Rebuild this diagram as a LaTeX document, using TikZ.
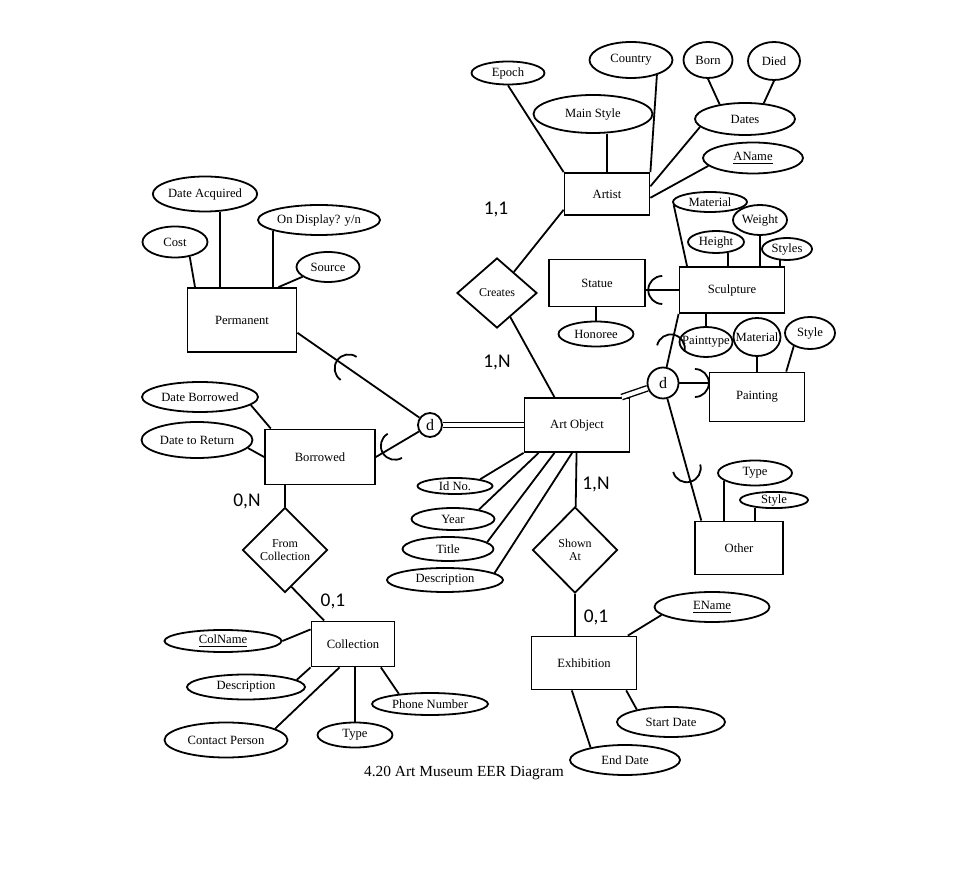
\documentclass[tikz,border=0pt]{standalone}
\usepackage{fontspec}
\setmainfont{Liberation Serif}
\newfontfamily\cardfam{Carlito}
\usepackage{tikz}
\usetikzlibrary{shapes.geometric, arrows.meta}
\tikzset{
  er/.style={draw, line width=0.9pt, inner sep=0pt,
    font=\fontsize{6.3}{7}\selectfont},
  ent/.style={er, rectangle, fill=white},
  attr/.style={er, ellipse, fill=white},
  rel/.style={er, diamond, fill=white, align=center,
    font=\fontsize{6}{6.8}\selectfont},
  spec/.style={er, circle, fill=white, font=\fontsize{8}{9}\selectfont},
  card/.style={font=\cardfam\fontsize{9.7}{11}\selectfont},
  link/.style={line width=0.9pt},
  isa/.style={line width=0.7pt, double, double distance=2pt},
  subset/.pic={\draw[line width=0.9pt] (0,7pt) arc[start angle=90, end angle=270, radius=7pt];}
}

\begin{document}
\begin{tikzpicture}[x=0.5pt, y=-0.5pt]
  \useasboundingbox (0,0) rectangle (980,892);

  % Artist
  \node[ent, minimum width=42.5pt, minimum height=21pt] (artist) at (607,194) {Artist};
  \node[attr, minimum width=36.5pt, minimum height=11.5pt] (epoch) at (508,73) {Epoch};
  \node[attr, minimum width=41.5pt, minimum height=18pt] (country) at (631,60) {Country};
  \node[attr, minimum width=24.5pt, minimum height=18pt] (born) at (708,60) {Born};
  \node[attr, minimum width=26pt, minimum height=19pt] (died) at (774,61) {Died};
  \node[attr, minimum width=59.5pt, minimum height=19pt] (mstyle) at (593,114) {Main Style};
  \node[attr, minimum width=50pt, minimum height=16pt] (dates) at (745,119) {Dates};
  \node[attr, minimum width=50pt, minimum height=15.5pt] (aname) at (753,158) {\underline{AName}};

  % relationships
  \node[rel, minimum width=40pt, minimum height=35pt] (creates) at (497,293) {Creates};
  \node[rel, minimum width=42.5pt, minimum height=43pt] (shown) at (575,550) {Shown\\At};
  \node[rel, minimum width=42.5pt, minimum height=42.5pt] (fromcol) at (285,550) {From\\Collection};

  % Art Object
  \node[ent, minimum width=52.5pt, minimum height=27pt] (artobj) at (577,425) {Art Object};
  \node[attr, minimum width=37.5pt, minimum height=8pt] (idno) at (455,486) {Id No.};
  \node[attr, minimum width=41.5pt, minimum height=11pt] (year) at (453,519) {Year};
  \node[attr, minimum width=45.5pt, minimum height=12pt] (title) at (448,549) {Title};
  \node[attr, minimum width=58pt, minimum height=12pt] (adesc) at (445,580) {Description};

  % Exhibition
  \node[ent, minimum width=52.5pt, minimum height=26.5pt] (exhib) at (584,663) {Exhibition};
  \node[attr, minimum width=57.5pt, minimum height=15pt] (ename) at (712,607) {\underline{EName}};
  \node[attr, minimum width=54pt, minimum height=15pt] (start) at (671,722) {Start Date};
  \node[attr, minimum width=55pt, minimum height=15pt] (enddate) at (625,760) {End Date};

  % Collection
  \node[ent, minimum width=41.5pt, minimum height=22.5pt] (coll) at (353,644) {Collection};
  \node[attr, minimum width=58.5pt, minimum height=11pt] (colname) at (223,641) {\underline{ColName}};
  \node[attr, minimum width=59pt, minimum height=12.5pt] (cdesc) at (246,687) {Description};
  \node[attr, minimum width=61.5pt, minimum height=17.5pt] (contact) at (226,740) {Contact Person};
  \node[attr, minimum width=37.5pt, minimum height=12.5pt] (ctype) at (355,735) {Type};
  \node[attr, minimum width=58pt, minimum height=11pt] (phone) at (430,704) {Phone Number};

  % Permanent and Borrowed
  \node[ent, minimum width=54.5pt, minimum height=32pt] (perm) at (242,320) {Permanent};
  \node[attr, minimum width=45pt, minimum height=17.5pt] (dacq) at (205,194) {Date Acquired};
  \node[attr, minimum width=32.5pt, minimum height=15.5pt] (cost) at (175,242) {Cost};
  \node[attr, minimum width=61pt, minimum height=15pt] (ondisp) at (319,220) {On Display? y/n};
  \node[attr, minimum width=31.5pt, minimum height=15pt] (source) at (328,267) {Source};
  \node[ent, minimum width=55pt, minimum height=27.5pt] (borrowed) at (320,457) {Borrowed};
  \node[attr, minimum width=58pt, minimum height=15pt] (dborrow) at (200,397) {Date Borrowed};
  \node[attr, minimum width=55.5pt, minimum height=18pt] (dreturn) at (197,440) {Date to Return};
  \node[spec, minimum size=12pt] (dl) at (430,425) {d};

  % Sculpture, Painting, Other
  \node[spec, minimum size=15.5pt] (dr) at (663,383) {d};
  \node[ent, minimum width=52.5pt, minimum height=23pt] (sculpt) at (732,290) {Sculpture};
  \node[attr, minimum width=37pt, minimum height=10pt] (smat) at (710,202) {Material};
  \node[attr, minimum width=27pt, minimum height=15pt] (weight) at (760,220) {Weight};
  \node[attr, minimum width=28pt, minimum height=11pt] (height) at (716,242) {Height};
  \node[attr, minimum width=25pt, minimum height=11pt] (styles) at (787,249) {Styles};
  \node[ent, minimum width=48pt, minimum height=23.5pt] (statue) at (597,283) {Statue};
  \node[attr, minimum width=37.5pt, minimum height=12.5pt] (honoree) at (596,334) {Honoree};
  \node[attr, inner xsep=-7pt, minimum width=26.5pt, minimum height=15pt] (ptype) at (706,342) {Painttype};
  \node[attr, inner xsep=-6pt, minimum width=23.5pt, minimum height=19pt] (pmat) at (757,337) {Material};
  \node[attr, minimum width=25pt, minimum height=16pt] (pstyle) at (810,333) {Style};
  \node[ent, minimum width=47.5pt, minimum height=24.5pt] (painting) at (757,397) {Painting};
  \node[ent, minimum width=44pt, minimum height=26.5pt] (other) at (739,548) {Other};
  \node[attr, minimum width=37pt, minimum height=12.5pt] (otype) at (755,473) {Type};
  \node[attr, minimum width=34pt, minimum height=8pt] (ostyle) at (774,500) {Style};

  % cardinalities
  \node[card] (c11) at (496,210) {1,1};
  \node[card] (c1n) at (497,363) {1,N};
  \node[card] (c1ns) at (596,485) {1,N};
  \node[card] (c0n) at (247,501) {0,N};
  \node[card] (c01c) at (333,601) {0,1};
  \node[card] (c01e) at (596,617) {0,1};

  \node[font=\fontsize{7.7}{9}\selectfont] (caption) at (464,773) {4.20 Art Museum EER Diagram};

  % artist attributes
  \draw[link] (epoch.south) -- (artist.north west);
  \draw[link] (artist.north) -- (artist.north |- mstyle.south);
  \draw[link] (country.-30) -- (artist.north east);
  \draw[link] (dates.190) -- (artist.10);
  \draw[link] (aname.190) -- (artist.-5);
  \draw[link] (born.south) -- (dates.150);
  \draw[link] (died.south) -- (dates.40);

  % relationships
  \draw[link] (creates) -- (artist.200);
  \draw[link] (creates) -- (artobj.129);
  \draw[link] (artobj) -- (shown);
  \draw[link] (shown.south) -- (shown.south |- exhib.north);
  \draw[link] (fromcol.north) -- (fromcol.north |- borrowed.south);
  \draw[link] (fromcol.-80) -- (coll.141);

  % art object attributes
  \draw[link] (idno.15) -- (artobj.south west);
  \draw[link] (year.20) -- (artobj.216);
  \draw[link] (title.10) -- (artobj.231);
  \draw[link] (adesc.8) -- (artobj.260);

  % exhibition attributes
  \draw[link] (ename.189) -- (exhib.32);
  \draw[link] (exhib.-33) -- (start.160);
  \draw[link] (exhib.246) -- (enddate.160);

  % collection attributes
  \draw[link] (colname.east) -- (coll.161);
  \draw[link] (cdesc.8) -- (coll.south west);
  \draw[link] (contact.13) -- (coll.240);
  \draw[link] (ctype.north) -- (ctype.north |- coll.south);
  \draw[link] (phone.162) -- (coll.-40);

  % permanent / borrowed attributes
  \draw[link] (dborrow.-9) -- (borrowed.150);
  \draw[link] (dreturn.-9) -- (borrowed.west);
  \draw[link] (dacq.-50) -- (dacq.-50 |- perm.north);
  \draw[link] (cost.-45) -- (perm.145);
  \draw[link] (ondisp.193) -- (ondisp.193 |- perm.north);
  \draw[link] (source.201) -- (perm.42);

  % specialisations
  \draw[isa] (dl) -- (artobj.west);
  \draw[link] (perm.-13) -- (dl) pic[pos=0.42, sloped, allow upside down]{subset};
  \draw[link] (borrowed.east) -- (dl) pic[pos=0.44, sloped, allow upside down]{subset};
  \draw[isa] (artobj.32) -- (dr);
  \draw[link] (sculpt.south west) -- (dr) pic[pos=0.65, sloped, allow upside down]{subset};
  \draw[link] (dr -| painting.west) -- (dr) pic[pos=0.47, sloped, allow upside down]{subset};
  \draw[link] (other.144) -- (dr) pic[pos=0.43, sloped, allow upside down]{subset};
  \draw[link] (sculpt.west -| statue.east) -- (sculpt.west) pic[pos=0.5, sloped, allow upside down]{subset};

  % sculpture, painting, other attributes
  \draw[link] (smat.185) -- (sculpt.152);
  \draw[link] (weight.south) -- (weight.south |- sculpt.north);
  \draw[link] (height.-43) -- (height.-43 |- sculpt.north);
  \draw[link] (styles.237) -- (styles.237 |- sculpt.north);
  \draw[link] (ptype.north) -- (ptype.north |- sculpt.south);
  \draw[link] (honoree.north) -- (honoree.north |- statue.south);
  \draw[link] (pmat.south) -- (pmat.south |- painting.north);
  \draw[link] (pstyle.219) -- (painting.41);
  \draw[link] (otype.194) -- (otype.194 |- other.north);
  \draw[link] (ostyle.202) -- (ostyle.202 |- other.north);

\end{tikzpicture}
\end{document}
